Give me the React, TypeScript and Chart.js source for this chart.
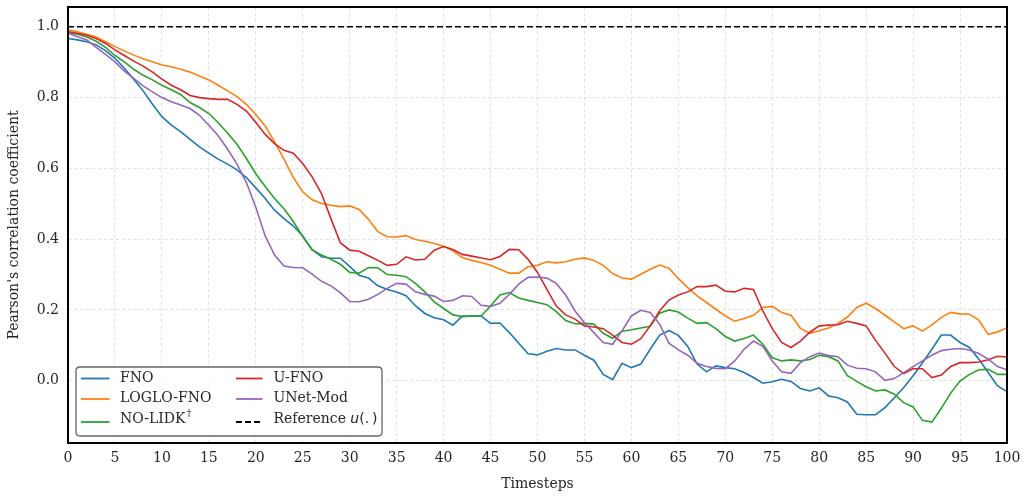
import { useEffect, useRef } from "react";
import { Chart, registerables } from "chart.js";

Chart.register(...registerables);

// ---- data ----
const seriesLabels = ["FNO", "LOGLO-FNO", "NO-LIDK†", "U-FNO", "UNet-Mod"];
const seriesColors = ["#1f77b4", "#ff7f0e", "#2ca02c", "#d62728", "#9467bd"];
const referenceLabel = "Reference u(.)";

const fno = [
  0.967, 0.963, 0.958, 0.949, 0.933, 0.911, 0.883, 0.852, 0.819, 0.781,
  0.746, 0.722, 0.704, 0.682, 0.661, 0.643, 0.626, 0.612, 0.596, 0.574,
  0.545, 0.515, 0.482, 0.458, 0.437, 0.409, 0.37, 0.35, 0.346, 0.346,
  0.323, 0.298, 0.29, 0.268, 0.258, 0.251, 0.24, 0.212, 0.19, 0.178,
  0.172, 0.157, 0.183, 0.183, 0.183, 0.162, 0.163, 0.136, 0.106, 0.076,
  0.073, 0.083, 0.091, 0.087, 0.087, 0.072, 0.058, 0.018, 0.003, 0.049,
  0.037, 0.047, 0.089, 0.128, 0.142, 0.128, 0.097, 0.047, 0.025, 0.042,
  0.037, 0.034, 0.023, 0.009, -0.007, -0.003, 0.004, -0.002, -0.022, -0.029,
  -0.02, -0.043, -0.048, -0.06, -0.095, -0.096, -0.096, -0.076, -0.048, -0.019,
  0.014, 0.051, 0.089, 0.129, 0.129, 0.108, 0.094, 0.061, 0.023, -0.015,
  -0.031,
];

const logloFno = [
  0.991, 0.986, 0.979, 0.971, 0.958, 0.944, 0.932, 0.92, 0.91, 0.901,
  0.892, 0.887, 0.88, 0.872, 0.861, 0.85, 0.835, 0.819, 0.803, 0.781,
  0.752, 0.72, 0.675, 0.626, 0.574, 0.534, 0.511, 0.501, 0.496, 0.492,
  0.494, 0.484, 0.456, 0.421, 0.407, 0.406, 0.41, 0.399, 0.394, 0.388,
  0.38, 0.367, 0.348, 0.34, 0.334, 0.326, 0.315, 0.304, 0.304, 0.322,
  0.326, 0.336, 0.333, 0.336, 0.343, 0.347, 0.34, 0.326, 0.303, 0.29,
  0.287, 0.301, 0.315, 0.327, 0.318, 0.289, 0.263, 0.24, 0.221, 0.202,
  0.183, 0.168, 0.176, 0.185, 0.207, 0.21, 0.193, 0.185, 0.148, 0.134,
  0.141, 0.149, 0.162, 0.18, 0.207, 0.219, 0.204, 0.185, 0.166, 0.147,
  0.155, 0.14, 0.158, 0.179, 0.193, 0.189, 0.188, 0.171, 0.131, 0.138,
  0.15,
];

const noLidk = [
  0.984, 0.979, 0.971, 0.959, 0.942, 0.919, 0.901, 0.88, 0.863, 0.85,
  0.835, 0.822, 0.809, 0.786, 0.772, 0.755, 0.729, 0.699, 0.668, 0.628,
  0.585, 0.549, 0.515, 0.486, 0.45, 0.407, 0.37, 0.355, 0.343, 0.329,
  0.306, 0.304, 0.32, 0.319, 0.3, 0.298, 0.294, 0.275, 0.251, 0.223,
  0.204, 0.186, 0.181, 0.183, 0.183, 0.211, 0.242, 0.249, 0.234, 0.227,
  0.221, 0.215, 0.195, 0.17, 0.161, 0.162, 0.16, 0.134, 0.12, 0.14,
  0.144, 0.149, 0.154, 0.191, 0.2, 0.194, 0.177, 0.162, 0.164, 0.147,
  0.125, 0.112, 0.119, 0.129, 0.103, 0.065, 0.056, 0.059, 0.056, 0.06,
  0.072, 0.068, 0.056, 0.014, -0.002, -0.017, -0.029, -0.026, -0.038, -0.062,
  -0.074, -0.112, -0.117, -0.078, -0.035, -0.001, 0.018, 0.031, 0.032, 0.018,
  0.018,
];

const uFno = [
  0.986, 0.982, 0.976, 0.967, 0.953, 0.935, 0.919, 0.903, 0.889, 0.872,
  0.852, 0.835, 0.822, 0.806, 0.8, 0.797, 0.795, 0.795, 0.781, 0.762,
  0.73, 0.696, 0.67, 0.651, 0.643, 0.614, 0.576, 0.529, 0.458, 0.39,
  0.369, 0.366, 0.353, 0.34, 0.326, 0.329, 0.35, 0.341, 0.343, 0.369,
  0.379, 0.371, 0.357, 0.352, 0.347, 0.342, 0.351, 0.371, 0.37, 0.343,
  0.306, 0.258, 0.211, 0.186, 0.174, 0.155, 0.152, 0.147, 0.129, 0.108,
  0.103, 0.119, 0.155, 0.197, 0.228, 0.242, 0.251, 0.266, 0.266, 0.27,
  0.253, 0.251, 0.261, 0.258, 0.197, 0.147, 0.108, 0.094, 0.112, 0.137,
  0.155, 0.157, 0.158, 0.168, 0.162, 0.155, 0.114, 0.078, 0.04, 0.02,
  0.034, 0.034, 0.009, 0.016, 0.04, 0.051, 0.051, 0.053, 0.059, 0.069,
  0.067,
];

const unetMod = [
  0.983, 0.972, 0.963, 0.942, 0.922, 0.901, 0.875, 0.854, 0.833, 0.816,
  0.8, 0.788, 0.779, 0.769, 0.75, 0.722, 0.692, 0.654, 0.612, 0.56,
  0.49, 0.409, 0.355, 0.324, 0.32, 0.319, 0.301, 0.281, 0.268, 0.249,
  0.224, 0.223, 0.23, 0.244, 0.261, 0.275, 0.273, 0.251, 0.244, 0.239,
  0.224, 0.227, 0.24, 0.238, 0.213, 0.21, 0.219, 0.244, 0.273, 0.292,
  0.293, 0.29, 0.275, 0.242, 0.197, 0.164, 0.136, 0.108, 0.103, 0.141,
  0.183, 0.199, 0.193, 0.16, 0.106, 0.087, 0.072, 0.049, 0.04, 0.035,
  0.034, 0.056, 0.089, 0.112, 0.097, 0.056, 0.025, 0.021, 0.051, 0.068,
  0.078, 0.071, 0.068, 0.044, 0.035, 0.034, 0.025, 0.001, 0.006, 0.023,
  0.04, 0.056, 0.072, 0.085, 0.089, 0.091, 0.087, 0.077, 0.061, 0.04,
  0.031,
];

const referenceX = [0, 100];
const referenceY = [1.0, 1.0];

const xMin = 0;
const xMax = 100;
const xStep = 5;
const yMin = -0.176;
const yMax = 1.056;
const yStep = 0.2;

const xTitle = "Timesteps";
const yTitle = "Pearson's correlation coefficient";

const seriesValues = [fno, logloFno, noLidk, uFno, unetMod];

// ---- styling ----
const SERIF = "'DejaVu Serif', serif";
const TEXT_COLOR = "#262626";
const GRID_COLOR = "#dadada";

const framePlugin = {
  id: "frame",
  afterDatasetsDraw(chart: any) {
    const { ctx, chartArea } = chart;
    ctx.save();
    ctx.strokeStyle = "#000";
    ctx.lineWidth = 2;
    ctx.strokeRect(chartArea.left, chartArea.top, chartArea.right - chartArea.left, chartArea.bottom - chartArea.top);
    ctx.restore();
  },
};

function roundRect(ctx: CanvasRenderingContext2D, x: number, y: number, w: number, h: number, r: number) {
  ctx.beginPath();
  ctx.moveTo(x + r, y);
  ctx.lineTo(x + w - r, y);
  ctx.quadraticCurveTo(x + w, y, x + w, y + r);
  ctx.lineTo(x + w, y + h - r);
  ctx.quadraticCurveTo(x + w, y + h, x + w - r, y + h);
  ctx.lineTo(x + r, y + h);
  ctx.quadraticCurveTo(x, y + h, x, y + h - r);
  ctx.lineTo(x, y + r);
  ctx.quadraticCurveTo(x, y, x + r, y);
  ctx.closePath();
}

function drawLabel(ctx: CanvasRenderingContext2D, text: string, x: number, y: number) {
  ctx.fillStyle = TEXT_COLOR;
  ctx.textBaseline = "middle";
  ctx.textAlign = "left";
  if (text.endsWith("†")) {
    const main = text.slice(0, -1);
    ctx.font = `14px ${SERIF}`;
    ctx.fillText(main, x, y);
    const w = ctx.measureText(main).width;
    ctx.font = `10px ${SERIF}`;
    ctx.fillText("†", x + w + 1, y - 6);
    return;
  }
  const m = text.match(/^(.*?)u\(\.\)$/);
  if (m) {
    ctx.font = `14px ${SERIF}`;
    ctx.fillText(m[1], x, y);
    let cx = x + ctx.measureText(m[1]).width;
    ctx.font = `italic 14px 'DejaVu Sans', sans-serif`;
    ctx.fillText("u", cx, y);
    cx += ctx.measureText("u").width;
    ctx.font = `14px 'DejaVu Sans', sans-serif`;
    ctx.fillText("(.\u2009)", cx, y);
    return;
  }
  ctx.font = `14px ${SERIF}`;
  ctx.fillText(text, x, y);
}

const legendPlugin = {
  id: "innerLegend",
  afterDraw(chart: any) {
    const { ctx, chartArea } = chart;
    const datasets = chart.data.datasets;
    const bx = chartArea.left + 8;
    const bw = 306;
    const bh = 69;
    const by = chartArea.bottom - 7 - bh;
    ctx.save();
    roundRect(ctx, bx, by, bw, bh, 4);
    ctx.fillStyle = "rgba(255,255,255,0.85)";
    ctx.fill();
    ctx.strokeStyle = "#666";
    ctx.lineWidth = 1.3;
    ctx.stroke();

    const textY = [11.5, 31.5, 52];
    const handleY = [11.5, 32, 55];
    const cols = [
      { hx0: 5, hx1: 33.5, tx: 44 },
      { hx0: 160, hx1: 186.5, tx: 197.5 },
    ];
    datasets.forEach((ds: any, i: number) => {
      const col = cols[Math.floor(i / 3)];
      const row = i % 3;
      ctx.beginPath();
      ctx.strokeStyle = ds.borderColor;
      ctx.lineWidth = 1.8;
      ctx.setLineDash(ds.borderDash || []);
      ctx.moveTo(bx + col.hx0, by + handleY[row]);
      ctx.lineTo(bx + col.hx1, by + handleY[row]);
      ctx.stroke();
      ctx.setLineDash([]);
      drawLabel(ctx, ds.label, bx + col.tx, by + textY[row]);
    });
    ctx.restore();
  },
};

export default function App() {
  const canvasRef = useRef<HTMLCanvasElement | null>(null);

  useEffect(() => {
    document.body.style.margin = "0";
    const canvas = canvasRef.current;
    if (!canvas) return;

    const datasets: any[] = seriesValues.map((vals, i) => ({
      label: seriesLabels[i],
      data: vals.map((y, t) => ({ x: t, y })),
      borderColor: seriesColors[i],
      backgroundColor: seriesColors[i],
      borderWidth: 1.6,
      pointRadius: 0,
      tension: 0,
      fill: false,
      order: 10 - i,
    }));
    datasets.push({
      label: referenceLabel,
      data: referenceX.map((x, i) => ({ x, y: referenceY[i] })),
      borderColor: "#000000",
      backgroundColor: "#000000",
      borderWidth: 1.6,
      borderDash: [6, 3],
      pointRadius: 0,
      tension: 0,
      fill: false,
      order: 1,
    });

    const tickFont = { family: SERIF, size: 14 };

    const chart = new Chart(canvas, {
      type: "line",
      data: { datasets },
      options: {
        animation: false,
        responsive: false,
        devicePixelRatio: 1,
        layout: { padding: { top: 7, right: 17, left: 0, bottom: 0 } },
        plugins: { legend: { display: false }, tooltip: { enabled: false } },
        scales: {
          x: {
            type: "linear",
            min: xMin,
            max: xMax,
            ticks: {
              stepSize: xStep,
              autoSkip: false,
              maxRotation: 0,
              padding: 7,
              color: TEXT_COLOR,
              font: tickFont,
              callback: (v: any) => String(v),
            },
            grid: { color: GRID_COLOR, lineWidth: 0.8, drawTicks: false },
            border: { display: false, dash: [3.5, 2.5] },
            title: {
              display: true,
              text: xTitle,
              color: TEXT_COLOR,
              font: { family: SERIF, size: 14 },
              padding: { top: 0, bottom: 4 },
            },
            afterFit: (s: any) => {
              s.height = 54;
              s.paddingLeft = 0;
              s.paddingRight = 0;
            },
          },
          y: {
            type: "linear",
            min: yMin,
            max: yMax,
            ticks: {
              stepSize: yStep,
              includeBounds: false,
              padding: 9,
              color: TEXT_COLOR,
              font: tickFont,
              callback: (v: any) => Number(v).toFixed(1),
            },
            grid: { color: GRID_COLOR, lineWidth: 0.8, drawTicks: false },
            border: { display: false, dash: [3.5, 2.5] },
            title: {
              display: true,
              text: yTitle,
              color: TEXT_COLOR,
              font: { family: SERIF, size: 14 },
              padding: { top: 6, bottom: 0 },
            },
            afterFit: (s: any) => {
              s.width = 68;
              s.paddingTop = 0;
              s.paddingBottom = 0;
            },
          },
        },
      } as any,
      plugins: [framePlugin, legendPlugin],
    });

    return () => chart.destroy();
  }, []);

  return (
    <div style={{ position: "fixed", left: 0, top: 0, width: 1024, height: 497, background: "#fff" }}>
      <canvas ref={canvasRef} width={1024} height={497} style={{ display: "block", width: 1024, height: 497 }} />
    </div>
  );
}
